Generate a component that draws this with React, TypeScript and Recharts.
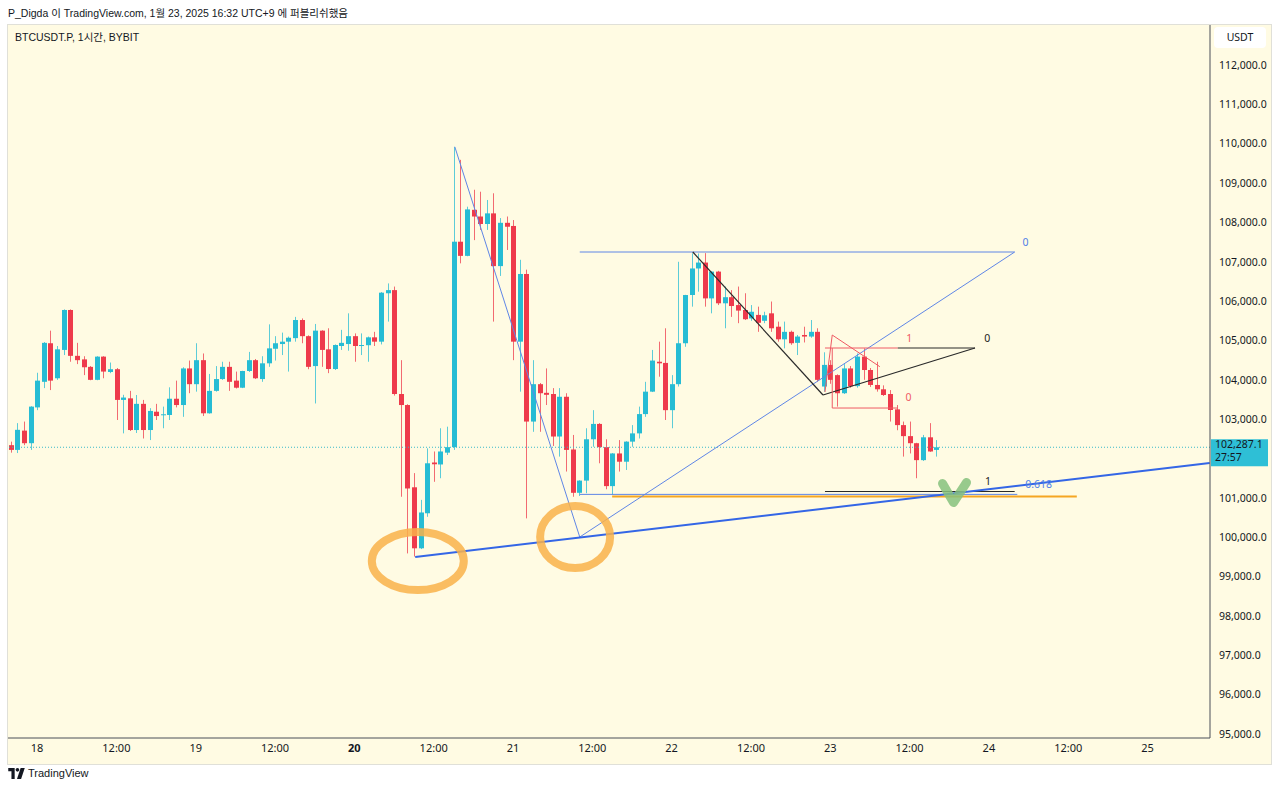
import React from 'react'
import { Bar, ComposedChart, ReferenceDot, ReferenceLine, XAxis, YAxis } from 'recharts'

// hourly candles, index 0 = Jan 17 20:00
const opens = [
  102340, 102220, 102710, 102390, 103300, 103950, 104930, 104040, 104760, 105775,
  104610, 104520, 104330, 104000, 104590, 104200, 104270, 103490, 103530, 102725,
  103390, 102725, 103190, 103100, 103107, 103520, 103360, 104290, 103890, 104500,
  103150, 103720, 104020, 104330, 103980, 103800, 104225, 104500, 104020, 104420,
  104790, 104910, 104970, 105060, 105520, 105110, 104350, 105250, 104775, 104275,
  104860, 104910, 105110, 104860, 104880, 105080, 104970, 106200, 106280, 103640,
  103360, 101270, 99720, 100610, 101900, 101850, 102150, 102290, 107510, 107150,
  108320, 108150, 107960, 108230, 106890, 107990, 107910, 104970, 106690, 102940,
  103890, 103670, 103640, 102560, 103570, 102230, 101130, 101440, 102490, 102880,
  102290, 101300, 102130, 101920, 102430, 102640, 103130, 103700, 104460, 104430,
  103230, 103890, 104930, 106156, 106830, 106980, 106070, 106750, 105945, 106100,
  105900, 105775, 105560, 105650, 105500, 105690, 105350, 105030, 105220, 104940,
  105140, 105100, 105220, 103830, 104380, 104120, 103660, 104290, 103840, 104590,
  104250, 103870, 103760, 103640, 103250, 102850, 102570, 102390, 101960, 102540,
  102220,
]
const highs = [
  102430, 102900, 102940, 103330, 104180, 104960, 105250, 104860, 105790, 105790,
  104940, 104600, 104350, 104600, 104600, 104440, 104300, 103620, 103720, 103615,
  103490, 103280, 103390, 103320, 103810, 103980, 104320, 104490, 104930, 104670,
  104150, 104350, 104460, 104460, 104210, 104230, 104710, 104530, 104600, 105410,
  105110, 105200, 105100, 105600, 105560, 105130, 105420, 105260, 105310, 104900,
  105270, 105690, 105180, 105180, 105100, 105220, 106230, 106450, 106370, 104500,
  103380, 101630, 100950, 102260, 102180, 102770, 102810, 109920, 109590, 108400,
  108830, 108780, 108570, 108740, 108110, 108150, 108060, 107050, 106800, 104500,
  103920, 104290, 103790, 103790, 103660, 102600, 101450, 102770, 103230, 102900,
  102490, 102140, 102470, 102440, 102850, 103320, 103950, 104760, 104970, 105310,
  104120, 107000, 106160, 107215, 107210, 107220, 106760, 106770, 106370, 106280,
  106370, 106200, 105900, 105860, 105730, 105990, 105480, 105480, 105250, 105140,
  105350, 105520, 105310, 104700, 104500, 104140, 104400, 104350, 104670, 104800,
  104300, 104460, 103860, 103740, 103360, 102940, 102940, 102400, 102600, 102900,
  102470,
]
const lows = [
  102150, 102140, 102340, 102220, 103230, 103790, 103740, 104000, 104630, 104460,
  104400, 104120, 103990, 103990, 104040, 104170, 102980, 102640, 102700, 102650,
  102510, 102470, 102980, 102770, 102980, 103300, 103060, 103660, 103700, 103080,
  103140, 103700, 104000, 103720, 103780, 103790, 104200, 104020, 103950, 104330,
  104490, 104630, 104210, 104970, 104930, 104270, 103400, 104330, 104170, 104250,
  104760, 104740, 104460, 104630, 104460, 104860, 104900, 105480, 103600, 101030,
  99590, 99510, 99700, 100520, 101410, 101500, 102090, 102220, 106960, 107140,
  107550, 107810, 107810, 105480, 106640, 107300, 104500, 103700, 100480, 102680,
  102680, 103360, 102320, 102050, 101670, 101030, 101050, 101120, 102300, 101880,
  101220, 101080, 101670, 101710, 102300, 102510, 103060, 103690, 104080, 102980,
  102770, 103830, 104840, 105860, 106240, 105860, 105690, 105900, 105310, 105600,
  105440, 105520, 105500, 105220, 105440, 105220, 104970, 104800, 104890, 104630,
  104950, 105070, 103950, 103700, 103900, 103320, 103640, 103800, 103800, 104000,
  103820, 103700, 103590, 102940, 102720, 102050, 102130, 101500, 101940, 102170,
  102050,
]
const closes = [
  102220, 102730, 102390, 103320, 103980, 104940, 103980, 104775, 105775, 104610,
  104500, 104320, 104000, 104590, 104210, 104270, 103490, 103550, 102725, 103390,
  102725, 103210, 103080, 103125, 103520, 103360, 104290, 103890, 104500, 103150,
  103720, 104020, 104330, 103950, 103800, 104225, 104500, 104040, 104420, 104800,
  104930, 104970, 105070, 105520, 105110, 104330, 105250, 104760, 104275, 104885,
  104940, 105110, 104860, 104885, 105080, 104970, 106215, 106280, 103640, 103360,
  101240, 99720, 100630, 101880, 101855, 102180, 102290, 107510, 107150, 108330,
  108150, 107960, 108230, 106890, 107990, 107890, 104970, 106690, 102940, 103890,
  103660, 103620, 102560, 103570, 102220, 101130, 101440, 102490, 102880, 102290,
  101300, 102130, 101920, 102430, 102640, 103130, 103700, 104490, 104420, 103230,
  103890, 104930, 106155, 106830, 106980, 106070, 106750, 105945, 106100, 105876,
  105760, 105540, 105730, 105450, 105640, 105310, 105030, 105220, 104930, 105100,
  105100, 105220, 104000, 104380, 104000, 103660, 104290, 103840, 104590, 104250,
  103870, 103760, 103615, 103234, 102850, 102570, 102390, 101960, 102540, 102180,
  102287.1,
]

const xTicks = [4, 16, 28, 40, 52, 64, 76, 88, 100, 112, 124, 136, 148, 160, 172]
const xTickLabels = ['18', '12:00', '19', '12:00', '20', '12:00', '21', '12:00', '22', '12:00', '23', '12:00', '24', '12:00', '25']
// 102,000 sits under the live price label, so it is not shown
const yTicks = [
  95000, 96000, 97000, 98000, 99000, 100000, 101000, 103000, 104000,
  105000, 106000, 107000, 108000, 109000, 110000, 111000, 112000,
]

const lastPrice = 102287.1
const countdown = '27:57'

// drawings, [hour index, price]
type Pt = [number, number]
const thinBlueLines: [Pt, Pt][] = [
  [[67.2, 109920], [86.1, 100006]],
  [[86.1, 100006], [151.9, 107248]],
  [[86.1, 107248], [151.9, 107248]],
  [[86.1, 101090], [152.3, 101090]],
]
const trendLines: [Pt, Pt][] = [[[61.2, 99498], [181.4, 101887]]]
const blackLines: [Pt, Pt][] = [
  [[103.2, 107248], [122.9, 103615]],
  [[122.9, 103615], [145.9, 104809]],
  [[134.2, 104809], [145.9, 104809]],
  [[123.2, 101163], [151.9, 101163]],
]
const redLines: [Pt, Pt][] = [
  [[123.2, 104809], [134.2, 104809]],
  [[124.3, 103284], [134.2, 103284]],
  [[124.3, 104809], [124.3, 103284]],
  [[123.2, 103691], [124.3, 105139]],
  [[124.3, 105139], [131.5, 104334]],
]
const orangeLines: [Pt, Pt][] = [[[91, 101036], [161.3, 101036]]]

const blueLabels: [number, number, string][] = [
  [153.1, 107503, '0'],
  [153.5, 101353, '0.618'],
]
const blackLabels: [number, number, string][] = [
  [147.3, 105063, '0'],
  [147.4, 101430, '1'],
]
const redLabels: [number, number, string][] = [
  [135.5, 105063, '1'],
  [135.4, 103564, '0'],
]
const circleMarks: Pt[] = [
  [61.6, 99397],
  [85.4, 100006],
]
const checkMark: Pt = [142.8, 101036]

const UP = '#26bcd4'
const DOWN = '#ee3a4b'
const BG = '#fffbe3'
const FONT = '"Noto Sans", "Noto Sans CJK KR", sans-serif'
const HEAD_FONT = '"Liberation Sans", "Noto Sans CJK KR", sans-serif'

const candles = opens.map((o, i) => ({ k: i, o, h: highs[i], l: lows[i], c: closes[i] }))

const fmtPrice = (v: number) =>
  v.toLocaleString('en-US', { minimumFractionDigits: 1, maximumFractionDigits: 1 })

function Candle(props: any) {
  const { x, y, width, height, payload } = props
  if (!payload || height == null) return null
  const top = Math.min(y, y + height)
  const hgt = Math.abs(height)
  const span = payload.h - payload.l || 1
  const py = (v: number) => top + ((payload.h - v) / span) * hgt
  const cx = Math.round(x + width / 2)
  const color = payload.c >= payload.o ? UP : DOWN
  const bTop = py(Math.max(payload.o, payload.c))
  const bBot = py(Math.min(payload.o, payload.c))
  return (
    <g>
      <line x1={cx + 0.5} x2={cx + 0.5} y1={top} y2={top + hgt} stroke={color} strokeOpacity={0.75} />
      <rect x={cx - 2} y={bTop} width={5} height={Math.max(1, bBot - bTop)} fill={color} />
    </g>
  )
}

function XTick(props: any) {
  const { x, y, payload } = props
  const label = xTickLabels[xTicks.indexOf(payload.value)] ?? ''
  return (
    <text x={x} y={y + 4} dy='0.71em' textAnchor='middle' fontSize={11} fill='#131722'
      fontWeight={label === '20' ? 700 : 400} fontFamily={FONT}>
      {label}
    </text>
  )
}

function segs(list: [Pt, Pt][], stroke: string, width: number, prefix: string) {
  return list.map(([a, b], i) => (
    <ReferenceLine
      key={prefix + i}
      segment={[{ x: a[0], y: a[1] }, { x: b[0], y: b[1] }]}
      stroke={stroke}
      strokeWidth={width}
      ifOverflow='visible'
    />
  ))
}

function labels(list: [number, number, string][], color: string, prefix: string) {
  return list.map(([k, p, t], i) => (
    <ReferenceDot
      key={prefix + i}
      x={k}
      y={p}
      r={0}
      ifOverflow='visible'
      shape={(s: any) => (
        <text x={s.cx} y={s.cy} dy='0.35em' fontSize={10.5} fill={color} fontFamily={FONT}>
          {t}
        </text>
      )}
    />
  ))
}

export default function App() {
  return (
    <div style={{ position: 'fixed', left: 0, top: 0, width: 1280, height: 790, background: '#fff', fontFamily: FONT }}>
      <div style={{ position: 'absolute', left: 8, top: 5, fontSize: 10.5, color: '#131722', whiteSpace: 'nowrap', fontFamily: HEAD_FONT }}>
        P_Digda 이 TradingView.com, 1월 23, 2025 16:32 UTC+9 에 퍼블리쉬했음
      </div>
      <div style={{ position: 'absolute', left: 7, top: 24, width: 1265, height: 741, background: BG, border: '1px solid #e0e0d8', boxSizing: 'border-box' }} />
      <div style={{ position: 'absolute', left: 8, top: 25 }}>
        <ComposedChart width={1264} height={740} data={candles} margin={{ top: 0, right: 0, bottom: 0, left: 0 }}>
          <XAxis
            dataKey='k'
            type='number'
            domain={[-0.4, 181.45]}
            allowDataOverflow
            ticks={xTicks}
            interval={0}
            height={27}
            tickSize={0}
            tick={<XTick />}
            axisLine={{ stroke: '#4a4e58' }}
          />
          <YAxis
            orientation='right'
            type='number'
            domain={[94900, 113016]}
            allowDataOverflow
            ticks={yTicks}
            interval={0}
            width={62}
            tickSize={0}
            tickMargin={9}
            tickFormatter={fmtPrice}
            tick={{ fontSize: 10.5, fill: '#131722', fontFamily: FONT }}
            axisLine={{ stroke: '#4a4e58' }}
          />
          <ReferenceLine y={lastPrice} stroke='#3bb9c9' strokeDasharray='1 2' />
          <Bar dataKey={(d: any) => [d.l, d.h]} barSize={5} isAnimationActive={false}
            shape={(p: any) => <Candle {...p} />} />
          {segs(orangeLines, '#f5a623', 2, 'o')}
          {segs(thinBlueLines, '#5f86e6', 1, 'b')}
          {segs(blackLines, '#2a2a2a', 1.2, 'k')}
          {segs(redLines, '#ef5a64', 1, 'r')}
          {segs(trendLines, '#3466e6', 2, 't')}
          {labels(blueLabels, '#4f7fe8', 'bl')}
          {labels(blackLabels, '#222', 'kl')}
          {labels(redLabels, '#ef5a64', 'rl')}
          {circleMarks.map(([k, p], i) => (
            <ReferenceDot key={'c' + i} x={k} y={p} r={0} ifOverflow='visible'
              shape={(s: any) => (
                <ellipse cx={s.cx} cy={s.cy} rx={i === 0 ? 46 : 35} ry={i === 0 ? 29 : 31}
                  fill='none' stroke='#f9b24a' strokeOpacity={0.85} strokeWidth={8} />
              )} />
          ))}
          <ReferenceDot x={checkMark[0]} y={checkMark[1]} r={0} ifOverflow='visible'
            shape={(s: any) => (
              <path d={`M ${s.cx - 12} ${s.cy - 13} L ${s.cx - 1} ${s.cy + 6} L ${s.cx + 12} ${s.cy - 14}`}
                fill='none' stroke='#86c17c' strokeOpacity={0.85} strokeWidth={9} strokeLinecap='round' strokeLinejoin='round' />
            )} />
          <ReferenceDot x={181.45} y={lastPrice} r={0} ifOverflow='visible'
            shape={(s: any) => (
              <g>
                <rect x={s.cx + 1} y={s.cy - 8} width={57} height={27} fill='#2ebfd6' />
                <text x={s.cx + 5} y={s.cy + 1} fontSize={10.5} fill='#131722' fontFamily={FONT}>{fmtPrice(lastPrice)}</text>
                <text x={s.cx + 5} y={s.cy + 14} fontSize={10.5} fill='#131722' fontFamily={FONT}>{countdown}</text>
              </g>
            )} />
        </ComposedChart>
      </div>
      <div style={{ position: 'absolute', left: 15, top: 29, fontSize: 10.5, color: '#131722', fontFamily: HEAD_FONT }}>BTCUSDT.P, 1시간, BYBIT</div>
      <div style={{ position: 'absolute', left: 1214, top: 27, width: 52, height: 21, background: '#fff', borderRadius: 4, fontSize: 10.5, color: '#131722', lineHeight: '21px', textAlign: 'center' }}>
        USDT
      </div>
      <div style={{ position: 'absolute', left: 8, top: 767, display: 'flex', alignItems: 'center', gap: 3 }}>
        <svg width={17} height={11} viewBox='0 0 36 24'>
          <path d='M0 0 H14 V24 H7 V7 H0 Z' fill='#131722' />
          <circle cx={20} cy={4} r={4} fill='#131722' />
          <path d='M27 0 H36 L28 24 H19 Z' fill='#131722' />
        </svg>
        <span style={{ fontSize: 11, color: '#131722', fontFamily: HEAD_FONT }}>TradingView</span>
      </div>
    </div>
  )
}
